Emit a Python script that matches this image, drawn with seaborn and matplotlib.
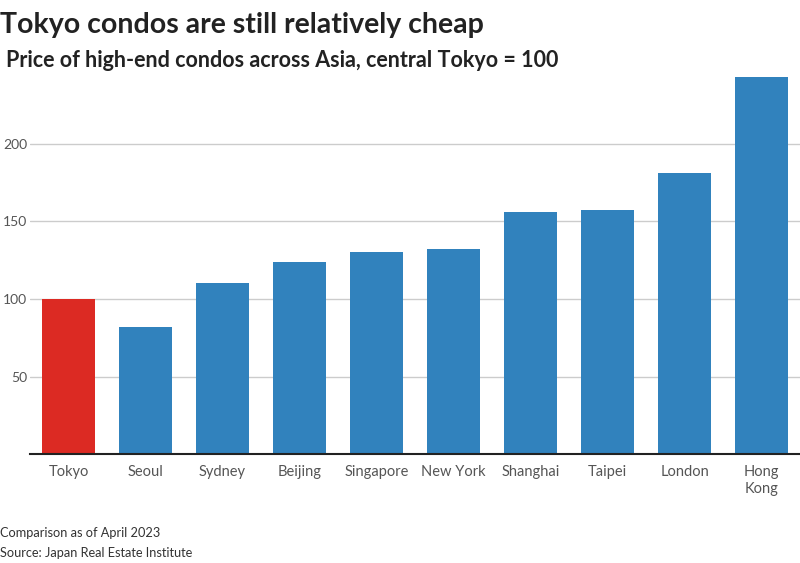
import matplotlib
matplotlib.use("Agg")
import matplotlib.pyplot as plt
import seaborn as sns
import pandas as pd

cities = ["Tokyo", "Seoul", "Sydney", "Beijing", "Singapore", "New York",
          "Shanghai", "Taipei", "London", "Hong\nKong"]
values = [100, 82, 110, 124, 130, 132, 156, 157, 181, 243]
yticks = [50, 100, 150, 200]

RED = "#dc2a23"
BLUE = "#3182bd"

sns.set_theme(style="white")
plt.rcParams["font.family"] = ["Lato", "DejaVu Sans"]

df = pd.DataFrame({"city": cities, "value": values})
palette = {c: (RED if c == "Tokyo" else BLUE) for c in cities}

fig = plt.figure(figsize=(8, 5.63), dpi=100)
ax = fig.add_axes([0.0375, 0.193, 0.9625, 0.676])

sns.barplot(data=df, x="city", y="value", hue="city", palette=palette,
            width=0.7, legend=False, ax=ax, saturation=1, edgecolor="none")

ax.set_xlim(-0.5, 9.5)
ax.set_ylim(0, 245)
ax.set_yticks(yticks)
ax.set_yticklabels([str(v) for v in yticks])
ax.yaxis.grid(True, color="#cccccc", linewidth=1)
ax.set_axisbelow(True)
for s in ["top", "right", "left"]:
    ax.spines[s].set_visible(False)
ax.spines["bottom"].set_color("#222222")
ax.spines["bottom"].set_linewidth(1.5)
ax.set_xlabel("")
ax.set_ylabel("")
ax.tick_params(axis="both", length=0, colors="#555555")
ax.tick_params(axis="x", pad=8, labelsize=10.5)
ax.tick_params(axis="y", pad=2, labelsize=10)
for lab in ax.get_yticklabels():
    lab.set_horizontalalignment("right")

fig.text(0.0, 0.955, "Tokyo condos are still relatively cheap", fontsize=20.5,
         fontweight="bold", color="#222222", ha="left", va="center")
fig.text(0.008, 0.893, "Price of high-end condos across Asia, central Tokyo = 100",
         fontsize=15.5, fontweight="bold", color="#222222", ha="left", va="center")
fig.text(0.0, 0.054, "Comparison as of April 2023", fontsize=9.2,
         color="#333333", ha="left", va="center")
fig.text(0.0, 0.018, "Source: Japan Real Estate Institute", fontsize=9.2,
         color="#333333", ha="left", va="center")

fig.savefig("out.png", dpi=100)
